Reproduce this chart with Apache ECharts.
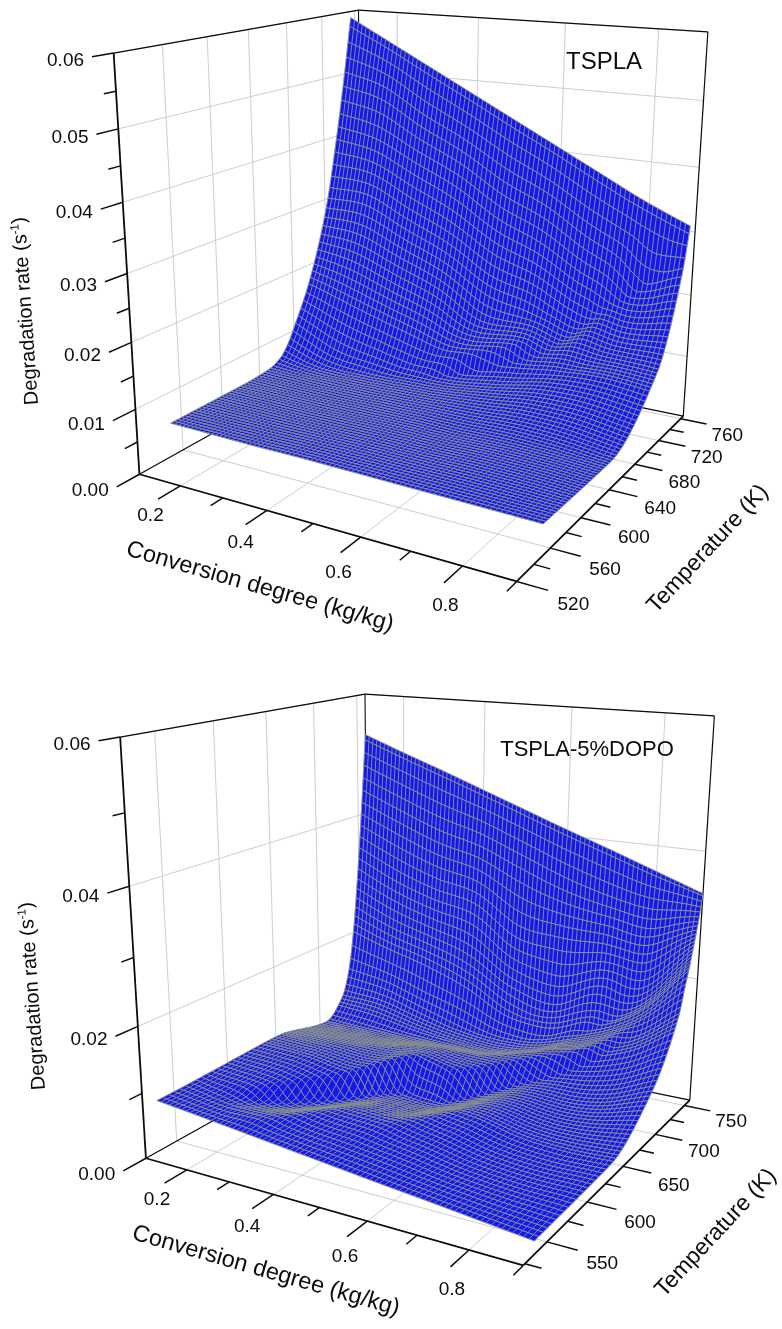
<!doctype html>
<html><head><meta charset="utf-8"><style>html,body{margin:0;background:#fff}#c{width:782px;height:1329px}</style></head><body><div id="c"></div>
<script src="https://cdn.jsdelivr.net/npm/echarts@6/dist/echarts.min.js"></script>
<script>
const convGrid=[0.1,0.2,0.3,0.4,0.5,0.6,0.7,0.8,0.9];
// surface readings: for each conversion degree, temperatures (K) and rates (1e-3 1/s) along the ridge lines of the sheet
const tempTSPLA=[
[550,620,650,664,673,682,696,710,723,737,746,755],
[550,620,655,669,678,686,699,712,725,738,746,755],
[550,620,660,674,682,690,702,714.5,727,739,747,755],
[550,620,665,680,687.5,695,706,717.5,729,740,747.5,755],
[550,620,675,692,698.3,704.6,714,723.5,733,742.4,748.7,755],
[550,620,685,700,705.5,711,719,727.5,736,744,749.5,755],
[550,625,695,713,720,725,730,735,740,745,750,755],
[550,630,705,741,743,745,747,748.5,750,751.5,753,755],
[550,640,710,748,749,750,751,752,753,753.7,754.4,755]];
const rateTSPLA=[
[5.2,5.2,5.5,6.5,8.3,11.1,15.8,22,29.5,41,49.5,59],
[5.1,5.1,5.3,5.6,6.85,9.4,14.9,22,30.6,40.5,47.8,55.5],
[5,5,5.3,5.6,6.8,9.1,14.2,20.9,28.9,38.1,44.8,52],
[5,5,5.5,6,7.1,9.2,13.9,20,27.3,35.8,41.9,48.5],
[4.9,5,6,7,10,11.4,14.1,19.5,26.1,33.6,39.1,45],
[4.8,4.8,7.4,9.5,12.3,13.5,15.5,20,25.6,31.9,36.5,41.5],
[4.7,4.9,9.6,13,14,15.5,18,21,24.5,28.5,33,38],
[4.6,4.7,11.3,20.5,22.1,24,26,27.8,29.5,31,32.6,34.5],
[4.5,4.2,11.7,26,26.8,27.6,28.4,29.1,29.9,30.4,31,31.5]];
const tempDOPO=[
[535,560,570,580,590,650,708,728,736,742,748,754,760],
[535,548,558,570,585,652,712,729,737,743,749,754.5,760],
[535,542,550,609,630,670,716,730,738,744,749.5,755,760],
[535,560,585,650,668,690,720,733,740,745,750,755.5,760],
[535,560,590,657,676,697,724,736,742,746.5,751,755.5,760],
[535,590,640,688,707,716,730,740,745,748.5,752,756,760],
[535,620,680,712,721,730,741,744,747,750,753,756.5,760],
[535,625,685,729,735,740,745,748,751,753,755,757.5,760],
[535,630,690,730,738,742,745,748,750,752,754,757,760]];
const rateDOPO=[
[7.8,7.85,7.9,7.95,8,8.3,6.4,9.5,13.5,19.5,28.8,40.3,53.3],
[7.1,6.95,6.8,6.6,7.3,8,6.2,9.3,13,18.5,27.5,38.5,50.8],
[6.35,6.5,6.8,4,6.8,7.4,5.9,7.8,11.5,17.9,26.2,37,48.4],
[5.6,5.7,5.9,3,8,7.6,5.6,6.9,10.9,16.8,25.5,36.3,45.9],
[4.85,5,5.4,2.5,6.8,6.9,5.4,6.6,9.5,15,22.8,33.4,43.4],
[4.1,4.1,4.2,3.7,7.2,7.3,6.8,8,11.5,16.5,23.9,31.9,40.9],
[3.4,2.6,3.9,6,8.8,9.2,10.5,13,17,21,25.5,31,38.5],
[2.65,2,4.5,11,13,14,15.5,18,22,24.8,27.5,31.5,36],
[1.9,2.2,7.6,16.5,20.5,22.3,23.8,25.5,26.6,27.7,28.9,31,33.5]];
const convMajor=[0.2,0.4,0.6,0.8], convMinor=[0.3,0.5,0.7,0.9];
const tempMajorTSPLA=[520,560,600,640,680,720,760], tempMinorTSPLA=[540,580,620,660,700,740];
const tempMajorDOPO=[550,600,650,700,750], tempMinorDOPO=[525,575,625,675,725];
const rateMajorTSPLA=[0,0.01,0.02,0.03,0.04,0.05,0.06], rateMinorTSPLA=[0.005,0.015,0.025,0.035,0.045,0.055];
const rateMajorDOPO=[0,0.02,0.04,0.06], rateMinorDOPO=[0.01,0.03,0.05];

// box-to-screen camera
const M=[300.28523,312.82515,-35.89639,139.428,20.54295,-36.5815,-425.90179,474.247,-0.14905,0.2504,-0.08896];
const panels=[
 {name:'TSPLA',temps:tempTSPLA,rates:rateTSPLA,meshSteps:[[700,3.3],[755,2.3]],T0:520,T1:765,tMaj:tempMajorTSPLA,tMin:tempMinorTSPLA,rMaj:rateMajorTSPLA,rMin:rateMinorTSPLA,ox:0,oy:0,title:[604,62],tfs:24,conv:[260,587],temp:[708,549],deg:[26,311]},
 {name:'TSPLA-5%DOPO',temps:tempDOPO,rates:rateDOPO,meshSteps:[[640,5],[725,3.5],[745,2],[760,.95]],T0:523,T1:760,tMaj:tempMajorDOPO,tMin:tempMinorDOPO,rMaj:rateMajorDOPO,rMin:rateMinorDOPO,ox:6.5,oy:684,title:[587,750],tfs:22,conv:[266,1271],temp:[716,1233],deg:[33,996]}];
const BLUE='#1418ee',MESH='#939c84',GRID='#c2c9d0',INK='#0c0c0c',FONT='"Liberation Sans",Arial,sans-serif';
const MESH_COLS=80;
function proj(p,c,T,r,du,dv){const u=(c-0.1)/0.8+(du||0),v=(T-p.T0)/(p.T1-p.T0)+(dv||0),w=r/0.06;
 const d=M[8]*u+M[9]*v+M[10]*w+1;
 return [(M[0]*u+M[1]*v+M[2]*w+M[3])/d+p.ox,(M[4]*u+M[5]*v+M[6]*w+M[7])/d+p.oy];}
const hermite=(a,b,ma,mb,s)=>{const s2=s*s,s3=s2*s;return (2*s3-3*s2+1)*a+(s3-2*s2+s)*ma+(-2*s3+3*s2)*b+(s3-s2)*mb;};
// smooth line through one reading index across the conversion lists
function acrossConv(table,k,x){const n=table.length,j=Math.min(n-2,Math.floor(x+1e-9)),s=x-j,v=q=>table[Math.max(0,Math.min(n-1,q))][k];
 return hermite(v(j),v(j+1),(v(j+1)-v(j-1))/(j>0?2:1),(v(j+2)-v(j))/(j<n-2?2:1),s);}
function sheetColumns(p){const K=p.temps[0].length,out=[];
 for(let i=0;i<=MESH_COLS;i++){const x=i/MESH_COLS*(convGrid.length-1);
  const Ts=[],Rs=[];for(let k=0;k<K;k++){let t=acrossConv(p.temps,k,x);if(k&&t<=Ts[k-1])t=Ts[k-1]+.01;Ts.push(t);Rs.push(acrossConv(p.rates,k,x));}
  const d=[];for(let k=0;k<K-1;k++)d.push((Rs[k+1]-Rs[k])/(Ts[k+1]-Ts[k]));
  const m=Ts.map((_,k)=>k==0?d[0]:k==K-1?d[K-2]:(d[k-1]*d[k]<=0?0:2*d[k-1]*d[k]/(d[k-1]+d[k])));
  out.push({Ts,Rs,m});}
 return out;}
function rateAt(sh,T){const {Ts,Rs,m}=sh;let k=0;while(k<Ts.length-2&&Ts[k+1]<T)k++;
 const h=Ts[k+1]-Ts[k],s=Math.min(1,Math.max(0,(T-Ts[k])/h));return hermite(Rs[k],Rs[k+1],m[k]*h,m[k+1]*h,s)/1000;}
function meshRows(p){const first=p.temps[0][0],last=p.temps[0][p.temps[0].length-1];let rows=[first],T=first;
 p.meshSteps.forEach(([end,st])=>{while(T+st<end-st*.4){T+=st;rows.push(T);}});rows.push(last);
 const strips=[];for(let i=rows.length-2;i>=0;i--)strips.push([rows[i],rows[i+1]]);return strips;}
function makeSeries(p,idx){
 const cA=0.1,cB=0.9,tA=p.T0,tB=p.T1,rT=0.06,segs=[];
 const S=(a,b,col,lw)=>segs.push({a,b,col,lw});
 p.tMaj.forEach(T=>{S([cA,T,0],[cA,T,rT],GRID,.9);S([cA,T,0],[cB,T,0],GRID,.9);});
 convMajor.forEach(c=>{S([c,tB,0],[c,tB,rT],GRID,.9);S([c,tA,0],[c,tB,0],GRID,.9);});
 p.rMaj.slice(1).forEach(r=>{S([cA,tA,r],[cA,tB,r],GRID,.9);S([cA,tB,r],[cB,tB,r],GRID,.9);});
 S([cA,tA,rT],[cA,tB,rT],INK,1.3);S([cA,tB,rT],[cB,tB,rT],INK,1.2);S([cA,tB,0],[cA,tB,rT],INK,1.1);S([cB,tB,0],[cB,tB,rT],INK,1.2);
 S([cA,tA,0],[cA,tB,0],INK,1.3);S([cA,tB,0],[cB,tB,0],INK,1.3);
 const back=segs.slice();
 segs.length=0;
 S([cA,tA,0],[cA,tA,rT],INK,1.8);S([cA,tA,0],[cB,tA,0],INK,1.8);S([cB,tA,0],[cB,tB,0],INK,1.8);
 const rTick=(r,k)=>k*(1-0.15*r/rT);
 p.rMaj.forEach(r=>S([cA,tA,r],[cA,tA,r,0,-rTick(r,.08)],INK,1.5));
 p.rMin.forEach(r=>S([cA,tA,r],[cA,tA,r,0,-rTick(r,.045)],INK,1.5));
 convMajor.forEach(c=>S([c,tA,0],[c,tA,0,0,-.08],INK,1.5));convMinor.forEach(c=>S([c,tA,0],[c,tA,0,0,-.045],INK,1.5));
 p.tMaj.forEach(T=>S([cB,T,0],[cB,T,0,.07,0],INK,1.5));p.tMin.forEach(T=>S([cB,T,0],[cB,T,0,.037,0],INK,1.5));
 const front=segs.slice();
 const labels=[];
 p.rMaj.forEach(r=>labels.push({at:[cA,tA,r,0,-rTick(r,.08)],dx:-8,dy:4,text:r.toFixed(2),align:'right'}));
 convMajor.forEach(c=>labels.push({at:[c,tA,0,.05,-.165],dx:0,dy:-3,text:c.toFixed(1),align:'center'}));
 p.tMaj.forEach(T=>labels.push({at:[cB,T,0,.125,0],dx:0,dy:7,text:String(T),align:'center'}));
 const segSeries=(list,name,z)=>({type:'custom',name,xAxisIndex:idx,yAxisIndex:idx,clip:false,silent:true,animation:false,progressive:0,z,
  data:list.map((s,i)=>[i,0]),encode:{x:0,y:1},
  renderItem:(par,api)=>{const s=list[api.value(0)],a=api.coord(proj(p,...s.a)),b=api.coord(proj(p,...s.b));
   return {type:'line',shape:{x1:a[0],y1:a[1],x2:b[0],y2:b[1]},style:{stroke:s.col,lineWidth:s.lw}};}});
 const cols=[...Array(MESH_COLS+1).keys()].map(i=>cA+(cB-cA)*i/MESH_COLS);
 const sheet=sheetColumns(p);
 const surf={type:'custom',name:p.name,xAxisIndex:idx,yAxisIndex:idx,clip:false,silent:true,animation:false,progressive:0,z:2,
  data:meshRows(p),encode:{x:0,y:1},
  renderItem:(par,api)=>{const t0=api.value(0),t1=api.value(1);
   const near=cols.map((c,i)=>api.coord(proj(p,c,t0,rateAt(sheet[i],t0)))),far=cols.map((c,i)=>api.coord(proj(p,c,t1,rateAt(sheet[i],t1))));
   const fmt=q=>q[0].toFixed(2)+' '+q[1].toFixed(2);
   let d='M'+near.map(fmt).join('L')+'M'+far.map(fmt).join('L');
   cols.forEach((c,i)=>{d+='M'+fmt(near[i])+'L'+fmt(far[i]);});
   return {type:'group',children:[
    {type:'polygon',shape:{points:near.concat(far.slice().reverse())},style:{fill:BLUE,stroke:BLUE,lineWidth:.3}},
    {type:'path',shape:{pathData:d},style:{fill:'none',stroke:MESH,lineWidth:.85}}]};}};
 const textEl=(text,x,y,fs,align,rot)=>({type:'text',x,y,rotation:(rot||0)*Math.PI/180,style:{text,font:fs+'px '+FONT,fill:'#0c0c0c',align,verticalAlign:'middle'}});
 const lab={type:'custom',name:p.name+' labels',xAxisIndex:idx,yAxisIndex:idx,clip:false,silent:true,animation:false,z:4,
  data:labels.map((l,i)=>[i,0]),encode:{x:0,y:1},
  renderItem:(par,api)=>{const l=labels[api.value(0)],q=api.coord(proj(p,...l.at));return textEl(l.text,q[0]+l.dx,q[1]+l.dy,19,l.align);}};
 const titles=[[p.name,p.title,p.tfs,0],['Conversion degree (kg/kg)',p.conv,23.5,-16],['Temperature (K)',p.temp,23,47]];
 const tit={type:'custom',name:p.name+' titles',xAxisIndex:idx,yAxisIndex:idx,clip:false,silent:true,animation:false,z:4,
  data:[[0,0],[1,0],[2,0],[3,0]],encode:{x:0,y:1},
  renderItem:(par,api)=>{const i=api.value(0);
   if(i<3){const t=titles[i],q=api.coord(t[1]);return textEl(t[0],q[0],q[1],t[2],'center',t[3]);}
   const q=api.coord(p.deg);
   return {type:'text',x:q[0],y:q[1],rotation:94*Math.PI/180,style:{text:'{a|Degradation rate (s}{b|-1}{a|)}',align:'center',verticalAlign:'middle',rich:{a:{font:'20px '+FONT,fill:'#0c0c0c',lineHeight:22},b:{font:'12px '+FONT,fill:'#0c0c0c',verticalAlign:'top',lineHeight:22}}}};}};
 return [segSeries(back,p.name+' walls',1),surf,segSeries(front,p.name+' axes',3),lab,tit];
}
const chart=echarts.init(document.getElementById('c'),null,{renderer:'canvas'});
chart.setOption({animation:false,backgroundColor:'#fff',
 grid:[{left:0,top:0,width:782,height:664},{left:0,top:664,width:782,height:665}],
 xAxis:[{type:'value',gridIndex:0,min:0,max:782,show:false},{type:'value',gridIndex:1,min:0,max:782,show:false}],
 yAxis:[{type:'value',gridIndex:0,min:0,max:664,inverse:true,show:false},{type:'value',gridIndex:1,min:664,max:1329,inverse:true,show:false}],
 series:panels.flatMap(makeSeries)});
</script></body></html>
